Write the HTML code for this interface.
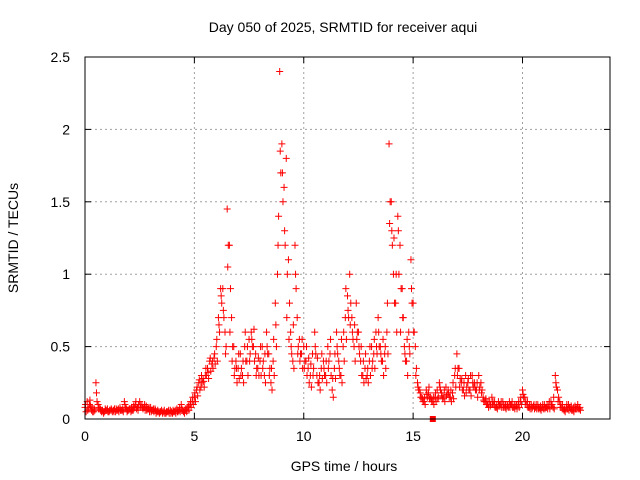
<!DOCTYPE html>
<html><head><meta charset="utf-8"><style>
html,body{margin:0;padding:0;background:#fff}
svg{display:block}
text{font-family:"Liberation Sans",sans-serif;font-size:14px;fill:#000}
</style></head><body>
<svg id="chart" width="640" height="480">
<text x="343" y="32" text-anchor="middle">Day 050 of 2025, SRMTID for receiver aqui</text>
<text x="344" y="471" text-anchor="middle">GPS time / hours</text>
<text transform="translate(18,238) rotate(-90)" text-anchor="middle">SRMTID / TECUs</text>
<g id="grid"></g><g id="marks"></g>
<rect x="85" y="57" width="525" height="362" fill="none" stroke="#000" stroke-width="1"/>
<g id="axes"></g>
</svg>
<script>
const xTicks=[0,5,10,15,20];
const yTicks=[0,0.5,1,1.5,2,2.5];
const yTickLabels=["0","0.5","1","1.5","2","2.5"];
const startHour=0, stepHours=0.1;
const values=[0.08,0.12,0.1,0.06,0.05,0.25,0.1,0.07,0.06,0.05,
0.06,0.05,0.07,0.06,0.05,0.06,0.08,0.06,0.12,0.07,
0.06,0.05,0.06,0.1,0.08,0.12,0.1,0.08,0.09,0.07,
0.08,0.06,0.07,0.05,0.04,0.06,0.05,0.04,0.05,0.06,
0.04,0.05,0.07,0.06,0.1,0.05,0.06,0.08,0.1,0.12,
0.15,0.2,0.25,0.22,0.28,0.3,0.35,0.4,0.38,0.42,
0.5,0.7,0.9,0.9,0.6,1.45,1.2,0.7,0.5,0.4,
0.35,0.45,0.3,0.5,0.4,0.55,0.6,0.5,0.45,0.35,
0.4,0.5,0.3,0.6,0.45,0.25,0.4,0.8,1.0,2.4,
1.9,1.6,1.8,1.1,0.6,0.4,1.2,0.7,0.55,0.45,
0.5,0.4,0.35,0.3,0.45,0.6,0.3,0.25,0.35,0.4,
0.3,0.5,0.45,0.2,0.35,0.6,0.4,0.3,0.5,0.7,
0.85,1.0,0.7,0.5,0.8,0.6,0.4,0.3,0.35,0.3,
0.4,0.5,0.45,0.6,0.7,0.5,0.4,0.45,0.6,1.9,
1.5,1.0,0.8,1.4,1.2,0.9,0.5,0.4,0.6,1.1,
0.8,0.5,0.25,0.2,0.15,0.12,0.2,0.18,0.15,0.12,
0.15,0.2,0.25,0.18,0.15,0.22,0.2,0.15,0.18,0.3,
0.45,0.35,0.25,0.2,0.3,0.25,0.2,0.3,0.25,0.2,
0.3,0.25,0.15,0.12,0.1,0.12,0.15,0.1,0.08,0.12,
0.1,0.12,0.08,0.1,0.12,0.1,0.08,0.09,0.1,0.12,
0.2,0.15,0.1,0.08,0.1,0.09,0.08,0.1,0.07,0.08,
0.1,0.08,0.09,0.12,0.08,0.3,0.2,0.12,0.08,0.06,
0.08,0.1,0.07,0.06,0.09,0.08,0.07];
const values2=[0.05,0.07,0.09,0.05,0.06,0.12,0.08,0.05,0.04,0.06,
0.05,0.06,0.05,0.07,0.06,0.05,0.06,0.05,0.08,0.06,
0.07,0.06,0.08,0.07,0.1,0.08,0.07,0.06,0.07,0.05,
0.06,0.05,0.04,0.05,0.05,0.04,0.04,0.05,0.04,0.05,
0.05,0.04,0.05,0.05,0.06,0.04,0.05,0.06,0.08,0.1,
0.12,0.16,0.2,0.25,0.22,0.3,0.28,0.33,0.35,0.38,
0.4,0.6,0.8,0.7,0.5,1.2,0.9,0.5,0.35,0.25,
0.28,0.35,0.25,0.4,0.3,0.45,0.5,0.4,0.35,0.3,
0.3,0.4,0.25,0.45,0.35,0.2,0.3,0.5,1.4,1.7,
1.5,1.2,1.0,0.8,0.45,0.35,0.9,0.5,0.45,0.35,
0.4,0.3,0.25,0.22,0.35,0.45,0.25,0.2,0.28,0.3,
0.25,0.4,0.3,0.15,0.28,0.45,0.3,0.25,0.4,0.55,
0.7,0.8,0.55,0.4,0.6,0.45,0.3,0.25,0.28,0.25,
0.3,0.4,0.35,0.45,0.5,0.4,0.3,0.35,0.45,1.5,
1.2,0.8,0.6,1.0,0.9,0.7,0.4,0.3,0.45,0.8,
0.6,0.35,0.2,0.15,0.12,0.1,0.15,0.14,0.12,0.1,
0.12,0.15,0.2,0.14,0.12,0.17,0.15,0.12,0.14,0.22,
0.35,0.28,0.2,0.16,0.22,0.2,0.16,0.22,0.2,0.15,
0.22,0.2,0.12,0.1,0.08,0.1,0.12,0.08,0.07,0.1,
0.08,0.1,0.07,0.08,0.1,0.08,0.07,0.07,0.08,0.1,
0.15,0.12,0.08,0.07,0.08,0.07,0.07,0.08,0.06,0.07,
0.08,0.07,0.07,0.1,0.07,0.22,0.15,0.1,0.07,0.05,
0.07,0.08,0.06,0.05,0.07,0.07,0.06];
const values3=[0.1,0.06,0.13,0.08,0.07,0.18,0.07,0.06,0.05,0.07,
0.07,0.06,0.06,0.05,0.07,0.07,0.06,0.07,0.1,0.05,
0.07,0.08,0.09,0.12,0.06,0.1,0.08,0.1,0.06,0.08,
0.05,0.07,0.06,0.06,0.05,0.05,0.06,0.05,0.06,0.04,
0.06,0.06,0.05,0.08,0.07,0.06,0.07,0.09,0.12,0.15,
0.18,0.22,0.27,0.3,0.26,0.35,0.32,0.42,0.4,0.45,
0.55,0.65,0.85,0.75,0.45,1.05,0.6,0.4,0.3,0.35,
0.45,0.3,0.4,0.6,0.5,0.4,0.55,0.62,0.3,0.42,
0.5,0.35,0.45,0.5,0.3,0.35,0.55,0.65,1.2,1.85,
1.7,1.3,0.7,0.55,0.5,0.65,1.0,0.45,0.4,0.55,
0.35,0.5,0.42,0.38,0.3,0.5,0.42,0.3,0.45,0.35,
0.4,0.35,0.55,0.28,0.45,0.5,0.35,0.55,0.6,0.9,
0.75,0.65,0.6,0.65,0.55,0.5,0.5,0.4,0.45,0.35,
0.5,0.35,0.55,0.5,0.6,0.45,0.55,0.5,0.8,1.35,
1.3,1.25,1.0,1.3,0.6,0.7,0.45,0.55,0.5,0.9,
0.6,0.3,0.22,0.18,0.14,0.15,0.17,0.22,0.14,0.15,
0.18,0.14,0.22,0.16,0.2,0.16,0.18,0.2,0.25,0.35,
0.3,0.22,0.28,0.25,0.18,0.28,0.3,0.25,0.22,0.25,
0.2,0.18,0.13,0.14,0.12,0.09,0.1,0.12,0.1,0.09,
0.12,0.08,0.1,0.09,0.08,0.12,0.1,0.1,0.12,0.15,
0.17,0.1,0.12,0.1,0.07,0.1,0.1,0.07,0.09,0.1,
0.07,0.1,0.12,0.09,0.15,0.25,0.12,0.08,0.1,0.07,
0.1,0.06,0.09,0.08,0.07,0.1,0.08];
const X=h=>85+h*(525/24);
const Y=v=>419-v*(362/2.5);
const NS="http://www.w3.org/2000/svg";
const grid=document.getElementById('grid'),axes=document.getElementById('axes'),marks=document.getElementById('marks');
function mk(tag,attrs,parent){const e=document.createElementNS(NS,tag);for(const k in attrs)e.setAttribute(k,attrs[k]);parent.appendChild(e);return e;}
xTicks.forEach(t=>{const x=X(t);
 if(t>0){const g=mk('line',{x1:x,x2:x,y1:57,y2:419,stroke:'#a0a0a0','stroke-dasharray':'2,3'},grid);
 
 }
 mk('line',{x1:x,x2:x,y1:419,y2:413,stroke:'#000'},axes);mk('line',{x1:x,x2:x,y1:57,y2:63,stroke:'#000'},axes);
 const l=mk('text',{x:x,y:441,'text-anchor':'middle'},axes);l.textContent=t;
 
 });
yTicks.forEach((t,i)=>{const y=Y(t);
 if(t>0&&t<2.5){const g=mk('line',{x1:85,x2:610,y1:y,y2:y,stroke:'#a0a0a0','stroke-dasharray':'2,3'},grid);
 
 }
 mk('line',{x1:85,x2:91,y1:y,y2:y,stroke:'#000'},axes);mk('line',{x1:610,x2:604,y1:y,y2:y,stroke:'#000'},axes);
 const l=mk('text',{x:70,y:y+5,'text-anchor':'end'},axes);l.textContent=yTickLabels[i];
 
 });
function plus(h,v){const x=X(h),y=Y(v);
 const p=mk('path',{d:`M${x-3.5},${y}h7M${x},${y-3.5}v7`,stroke:'#f00','stroke-width':1,fill:'none'},marks);
 
 }
values.forEach((v,i)=>plus(startHour+i*stepHours,v));
values2.forEach((v,i)=>plus(startHour+i*stepHours+0.05,v));
values3.forEach((v,i)=>plus(startHour+i*stepHours+0.025,v));
const sq=mk('rect',{x:X(15.9)-3,y:Y(0)-3,width:6,height:6,fill:'#f00'},marks);


</script>
</body></html>
